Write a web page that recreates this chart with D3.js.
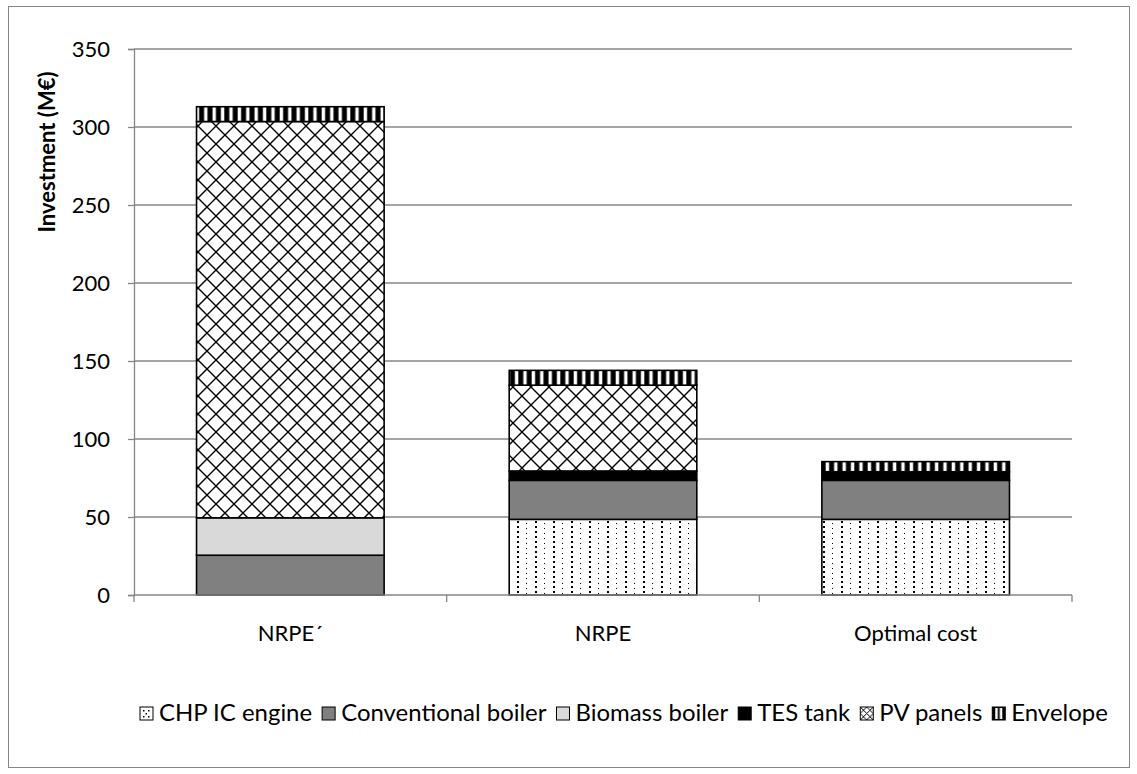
<!DOCTYPE html>
<html><head><meta charset="utf-8">
<script src="https://cdn.jsdelivr.net/npm/d3@7"></script>
<style>
body{margin:0;background:#fff}
text{font-family:Lato,'Open Sans',sans-serif;fill:#000}
</style></head>
<body><svg id="c" width="1137" height="774"></svg>
<script>
const categories = ["NRPE\u00B4", "NRPE", "Optimal cost"];
const seriesNames = ["CHP IC engine", "Conventional boiler", "Biomass boiler", "TES tank", "PV panels", "Envelope"];
const chpEngine = [0, 48.5, 48.5];
const convBoiler = [25.5, 25, 25];
const biomassBoiler = [24, 0, 0];
const tesTank = [0, 6, 5.5];
const pvPanels = [254, 55, 0];
const envelope = [9.5, 9.5, 6.5];
const yTicks = [0, 50, 100, 150, 200, 250, 300, 350];
const yTitle = "Investment (M\u20AC)";

const seriesArrays = [chpEngine, convBoiler, biomassBoiler, tesTank, pvPanels, envelope];
const rows = categories.map((c, i) => {
  const r = {cat: c};
  seriesNames.forEach((s, j) => r[s] = seriesArrays[j][i]);
  return r;
});

const svg = d3.select("#c");
const m = {l: 134, r: 1072, t: 49, b: 595};
const FS = 22;

svg.append("rect").attr("x", 8.5).attr("y", 6.5).attr("width", 1121).attr("height", 761)
  .attr("fill", "#fff").attr("stroke", "#868686").attr("stroke-width", 1);

const defs = svg.append("defs");
const pc = defs.append("pattern").attr("id", "p0").attr("patternUnits", "userSpaceOnUse")
  .attr("width", 18).attr("height", 10);
pc.append("rect").attr("width", 18).attr("height", 10).attr("fill", "#fff");
[[13, 1, 2], [13, 6, 2], [4, 3, 1], [4, 8, 1]].forEach(d =>
  pc.append("rect").attr("x", d[0]).attr("y", d[1]).attr("width", d[2]).attr("height", d[2]).attr("fill", "#000"));
const pp = defs.append("pattern").attr("id", "p4").attr("patternUnits", "userSpaceOnUse")
  .attr("width", 18).attr("height", 18);
pp.append("rect").attr("width", 18).attr("height", 18).attr("fill", "#fff");
pp.append("path").attr("d", "M0,0L18,18M18,0L0,18M-1,17L1,19M17,-1L19,1")
  .attr("stroke", "#000").attr("stroke-width", 1.4);
const pe = defs.append("pattern").attr("id", "p5").attr("patternUnits", "userSpaceOnUse")
  .attr("width", 8.4).attr("height", 10);
pe.append("rect").attr("width", 8.4).attr("height", 10).attr("fill", "#000");
pe.append("rect").attr("x", 2.5).attr("width", 3.4).attr("height", 10).attr("fill", "#fff");
const lp4 = defs.append("pattern").attr("id", "l4").attr("patternUnits", "objectBoundingBox")
  .attr("width", 1).attr("height", 1);
lp4.append("rect").attr("width", 13).attr("height", 13).attr("fill", "#fff");
lp4.append("path").attr("d", "M0,0L13,13M13,0L0,13M0,6.5L6.5,0L13,6.5L6.5,13Z").attr("fill", "none")
  .attr("stroke", "#000").attr("stroke-width", 1);
const lp5 = defs.append("pattern").attr("id", "l5").attr("patternUnits", "objectBoundingBox")
  .attr("width", 1).attr("height", 1);
lp5.append("rect").attr("width", 13).attr("height", 13).attr("fill", "#000");
lp5.append("rect").attr("x", 3).attr("y", 1).attr("width", 2.5).attr("height", 11).attr("fill", "#fff");
lp5.append("rect").attr("x", 7.5).attr("y", 1).attr("width", 2.5).attr("height", 11).attr("fill", "#fff");
const lp0 = defs.append("pattern").attr("id", "l0").attr("patternUnits", "objectBoundingBox")
  .attr("width", 1).attr("height", 1);
lp0.append("rect").attr("width", 13).attr("height", 13).attr("fill", "#fff");
[[3, 3], [8, 3], [5.5, 6], [3, 9], [8, 9]].forEach(d =>
  lp0.append("rect").attr("x", d[0]).attr("y", d[1]).attr("width", 1.5).attr("height", 1.5).attr("fill", "#000"));

const fills = ["url(#p0)", "#808080", "#d9d9d9", "#000", "url(#p4)", "url(#p5)"];
const legendFills = ["url(#l0)", "#808080", "#d9d9d9", "#000", "url(#l4)", "url(#l5)"];

const x = d3.scaleBand().domain(categories).range([m.l, m.r]).paddingInner(0.4).paddingOuter(0.2);
const y = d3.scaleLinear().domain([0, 350]).range([m.b, m.t]);

svg.append("g").selectAll("line").data(yTicks.filter(t => t > 0)).join("line")
  .attr("x1", m.l).attr("x2", m.r).attr("y1", d => y(d)).attr("y2", d => y(d))
  .attr("stroke", "#868686").attr("stroke-width", 1.3);

const ya = svg.append("g").attr("transform", `translate(${m.l},0)`)
  .call(d3.axisLeft(y).tickValues(yTicks).tickSize(6).tickPadding(18));
ya.select(".domain").attr("stroke", "#868686").attr("stroke-width", 1.3);
ya.selectAll(".tick line").attr("stroke", "#868686").attr("stroke-width", 1.3);
ya.selectAll("text").attr("font-size", FS).attr("font-family", "Lato,'Open Sans',sans-serif").attr("dy", "0.36em");

const stack = d3.stack().keys(seriesNames)(rows);
svg.append("g").selectAll("g").data(stack).join("g")
  .attr("fill", (d, i) => fills[i])
  .selectAll("rect").data(d => d.filter(v => v[1] - v[0] > 0)).join("rect")
  .attr("x", d => x(d.data.cat)).attr("width", x.bandwidth())
  .attr("y", d => y(d[1])).attr("height", d => y(d[0]) - y(d[1]))
  .attr("stroke", "#000").attr("stroke-width", 1.6);

const xb = d3.scaleLinear().domain([0, 3]).range([m.l, m.r]);
svg.append("line").attr("x1", m.l).attr("x2", m.r).attr("y1", m.b).attr("y2", m.b)
  .attr("stroke", "#868686").attr("stroke-width", 1.3);
svg.append("g").selectAll("line").data([0, 1, 2, 3]).join("line")
  .attr("x1", d => xb(d)).attr("x2", d => xb(d)).attr("y1", m.b).attr("y2", m.b + 7)
  .attr("stroke", "#868686").attr("stroke-width", 1.3);
svg.append("g").selectAll("text").data(categories).join("text")
  .attr("x", d => x(d) + x.bandwidth() / 2).attr("y", 641)
  .attr("text-anchor", "middle").attr("font-size", FS).text(d => d);

svg.append("text").attr("transform", "translate(55,152) rotate(-90)")
  .attr("text-anchor", "middle").attr("font-size", FS).attr("font-weight", "bold").text(yTitle);

// legend, fitted to span 140..1108
const gapMarker = 19, gapItem = 10, L0 = 140, L1 = 1108;
const lg = svg.append("g");
const items = lg.selectAll("g").data(seriesNames).join("g");
items.append("rect").attr("width", 13).attr("height", 13).attr("y", -14)
  .attr("fill", (d, i) => legendFills[i]).attr("stroke", "#000").attr("stroke-width", 1);
const texts = items.append("text").attr("x", gapMarker).attr("y", 0).attr("font-size", FS).text(d => d);
let tl = 0;
texts.each(function() { tl += this.getComputedTextLength(); });
const avail = (L1 - L0) - seriesNames.length * gapMarker - (seriesNames.length - 1) * gapItem;
const lfs = FS * avail / tl;
texts.attr("font-size", lfs);
let cx = 0;
items.each(function() {
  const w = gapMarker + this.querySelector("text").getComputedTextLength();
  d3.select(this).attr("transform", `translate(${cx},0)`);
  cx += w + gapItem;
});
lg.attr("transform", `translate(${L0},721)`);
</script>
</body></html>
